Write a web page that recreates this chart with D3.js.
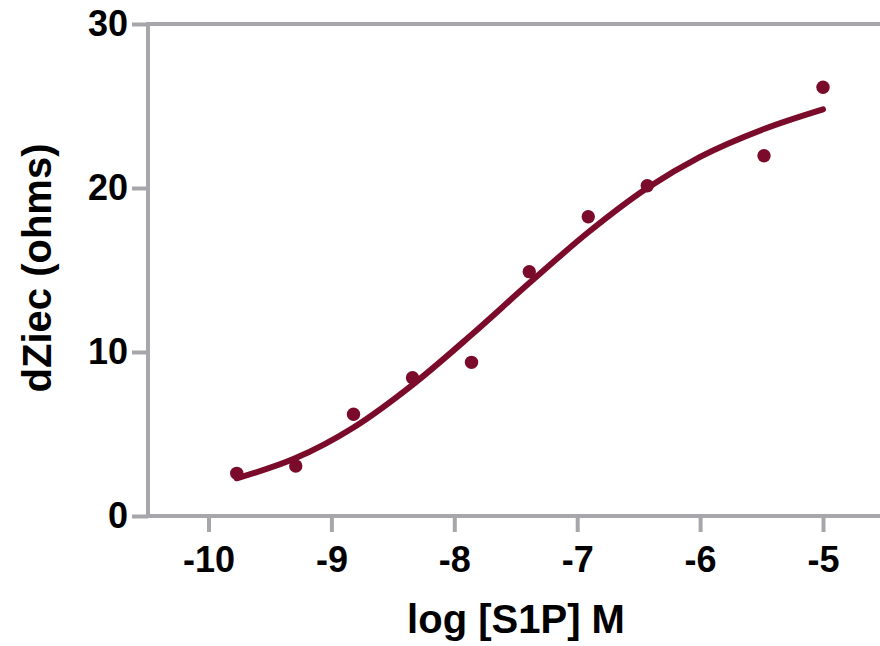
<!DOCTYPE html>
<html>
<head>
<meta charset="utf-8">
<script src="https://cdn.jsdelivr.net/npm/d3@7"></script>
<style>
  body { margin: 0; background: #fff; }
  text { font-family: "Liberation Sans", Arial, Helvetica, sans-serif; font-weight: bold; fill: #000; }
</style>
</head>
<body>
<div id="chart"></div>
<script>
// measured points: log concentration (3-fold dilutions) and impedance change
const logConc = [-9.77, -9.29, -8.82, -8.34, -7.86, -7.39, -6.91, -6.43, -5.48, -5.00];
const dZiec = [2.6, 3.05, 6.2, 8.43, 9.37, 14.9, 18.25, 20.14, 21.97, 26.14];

// fitted curve
const fitX = [-9.77, -9.30, -8.82, -8.34, -7.86, -7.39, -6.91, -6.43, -6.00, -5.48, -5.00];
const fitY = [2.3, 3.5, 5.4, 8.0, 11.05, 14.2, 17.3, 20.0, 21.9, 23.6, 24.8];

const xTicks = [-10, -9, -8, -7, -6, -5];
const yTicks = [0, 10, 20, 30];

const width = 880, height = 646;
const margin = {top: 24, right: 0, bottom: 130, left: 148};
const axisColor = "#a7a7ab";
const markColor = "#7b0b2b";

const svg = d3.select("#chart").append("svg")
    .attr("width", width)
    .attr("height", height);

// x: -10 sits at 208.5px, -5 at 823px
const x = d3.scaleLinear()
    .domain([-10, -5])
    .range([208.5, 823]);

const y = d3.scaleLinear()
    .domain([0, 30])
    .range([height - margin.bottom, margin.top]);

// top frame line
svg.append("line")
    .attr("x1", margin.left).attr("x2", width)
    .attr("y1", y(30)).attr("y2", y(30))
    .attr("stroke", axisColor).attr("stroke-width", 4);

const xAxis = svg.append("g")
    .attr("transform", "translate(0," + y(0) + ")")
    .call(d3.axisBottom(x).tickValues(xTicks).tickSize(16).tickSizeOuter(0).tickPadding(14));
xAxis.select(".domain").remove();
xAxis.append("line")
    .attr("x1", margin.left).attr("x2", width)
    .attr("stroke", axisColor).attr("stroke-width", 4);
xAxis.selectAll(".tick line").attr("stroke", axisColor).attr("stroke-width", 4);
xAxis.selectAll(".tick text")
    .style("font-size", "36px")
    .text(d => "-" + Math.abs(d));

const yAxis = svg.append("g")
    .attr("transform", "translate(" + margin.left + ",0)")
    .call(d3.axisLeft(y).tickValues(yTicks).tickSize(16).tickSizeOuter(0).tickPadding(4));
yAxis.select(".domain").remove();
yAxis.append("line")
    .attr("y1", y(0) + 2).attr("y2", y(30) - 2)
    .attr("stroke", axisColor).attr("stroke-width", 4);
yAxis.selectAll(".tick line").attr("stroke", axisColor).attr("stroke-width", 4);
yAxis.selectAll(".tick text").style("font-size", "36px");

const fit = fitX.map((v, i) => ({x: v, y: fitY[i]}));
const line = d3.line()
    .curve(d3.curveMonotoneX)
    .x(d => x(d.x))
    .y(d => y(d.y));

svg.append("path")
    .datum(fit)
    .attr("d", line)
    .attr("fill", "none")
    .attr("stroke", markColor)
    .attr("stroke-width", 6)
    .attr("stroke-linecap", "round");

svg.selectAll(".dot")
    .data(logConc.map((v, i) => ({x: v, y: dZiec[i]})))
    .enter()
    .append("circle")
    .attr("class", "dot")
    .attr("cx", d => x(d.x))
    .attr("cy", d => y(d.y))
    .attr("r", 6.7)
    .attr("fill", markColor);

svg.append("text")
    .attr("x", 516)
    .attr("y", 633)
    .attr("text-anchor", "middle")
    .style("font-size", "40px")
    .text("log [S1P] M");

svg.append("text")
    .attr("transform", "translate(51,268) rotate(-90)")
    .attr("text-anchor", "middle")
    .style("font-size", "40px")
    .text("dZiec (ohms)");
</script>
</body>
</html>
